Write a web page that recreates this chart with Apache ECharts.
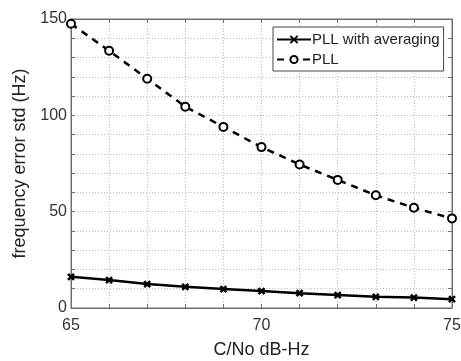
<!DOCTYPE html>
<html><head><meta charset="utf-8">
<script src="https://cdn.jsdelivr.net/npm/echarts@6/dist/echarts.min.js"></script>
<style>html,body{margin:0;padding:0;background:#fff}#c{width:461px;height:361px}</style>
</head><body><div id="c"></div>
<script>
const cn = [65,66,67,68,69,70,71,72,73,74,75];
const pllAvg = [16.2,14.5,12.4,11.0,9.8,8.8,7.7,6.7,5.8,5.4,4.6];
const pll = [147.5,133.5,119,104.5,94,83.5,74.5,66.5,58.5,52,46.5];
const xTicks = [65,70,75];
const yTicks = [0,50,100,150];
const xName = 'C/No dB-Hz';
const yName = 'frequency error std (Hz)';

const F = 'Liberation Sans, Arial, sans-serif';
const xPath = 'path://M0,0L10,10M10,0L0,10';
const chart = echarts.init(document.getElementById('c'), null, {renderer:'canvas'});
const gridStyle = {show:true, lineStyle:{color:'#bdbdbd', type:[1,2], width:1}};
const fmt = ticks => v => ticks.indexOf(Math.round(v*1000)/1000) >= 0 ? String(v) : '';
chart.setOption({
  animation:false,
  backgroundColor:'#fff',
  grid:{left:71, right:9, top:19, bottom:53, show:true, borderColor:'#6e6e6e', borderWidth:1,
        outerBoundsMode:'none', containLabel:false},
  legend:{
    left:273, top:27, width:170, orient:'vertical', itemWidth:34, itemHeight:9, itemGap:5,
    padding:[5,4,4,3], borderColor:'#444', borderWidth:1, backgroundColor:'#fff',
    textStyle:{fontFamily:F, fontSize:15, color:'#222', padding:[0,0,0,-4]},
    data:['PLL with averaging','PLL']
  },
  xAxis:[{
    type:'value', min:65, max:75, interval:1,
    name:xName, nameLocation:'middle', nameGap:33,
    nameTextStyle:{fontFamily:F, fontSize:18, color:'#222'},
    axisLine:{show:true, onZero:false, lineStyle:{color:'#6e6e6e'}},
    axisTick:{show:true, inside:true, length:4, lineStyle:{color:'#6e6e6e'}},
    axisLabel:{fontFamily:F, fontSize:16, color:'#333', margin:10, formatter:fmt(xTicks), showMinLabel:true, showMaxLabel:true},
    splitLine:gridStyle
  },{
    type:'value', min:65, max:75, interval:1, position:'top',
    axisLine:{show:true, onZero:false, lineStyle:{color:'#6e6e6e'}},
    axisTick:{show:true, inside:true, length:4, lineStyle:{color:'#6e6e6e'}},
    axisLabel:{show:false}, splitLine:{show:false}
  }],
  yAxis:[{
    type:'value', min:0, max:150, interval:10,
    name:yName, nameLocation:'middle', nameGap:39,
    nameTextStyle:{fontFamily:F, fontSize:18, color:'#222'},
    axisLine:{show:true, onZero:false, lineStyle:{color:'#6e6e6e'}},
    axisTick:{show:true, inside:true, length:4, lineStyle:{color:'#6e6e6e'}},
    axisLabel:{fontFamily:F, fontSize:16, color:'#333', margin:4, formatter:fmt(yTicks), showMinLabel:true, showMaxLabel:true},
    splitLine:gridStyle
  },{
    type:'value', min:0, max:150, interval:10, position:'right',
    axisLine:{show:true, onZero:false, lineStyle:{color:'#6e6e6e'}},
    axisTick:{show:true, inside:true, length:4, lineStyle:{color:'#6e6e6e'}},
    axisLabel:{show:false}, splitLine:{show:false}
  }],
  series:[{
    name:'PLL with averaging', type:'line',
    data:cn.map((x,i)=>[x,pllAvg[i]]),
    symbol:xPath, symbolSize:6,
    lineStyle:{color:'#000', width:2.5},
    itemStyle:{color:'#000', borderColor:'#000', borderWidth:2.5},
    z:3
  },{
    name:'PLL', type:'line',
    data:cn.map((x,i)=>[x,pll[i]]),
    symbol:'circle', symbolSize:8,
    lineStyle:{color:'#000', width:2.5, type:[7,6]},
    itemStyle:{color:'#fff', borderColor:'#000', borderWidth:2},
    z:3
  }]
});
</script></body></html>
